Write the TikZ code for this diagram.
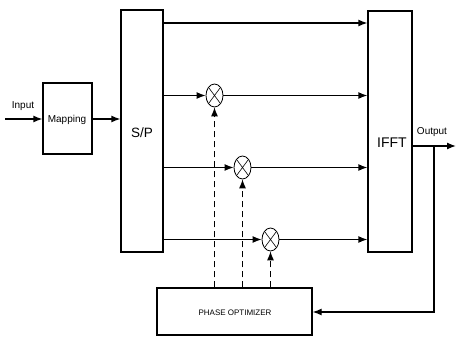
\documentclass[tikz,border=0pt]{standalone}
\usepackage{fontspec}
\setmainfont{Liberation Sans}
\usetikzlibrary{arrows.meta,shapes.geometric}
\begin{document}
\begin{tikzpicture}[x=1pt,y=-1pt,
  line width=1.3pt,
  box/.style={draw,rectangle,inner sep=0pt},
  mult/.style={draw,ellipse,minimum width=17pt,minimum height=23pt,inner sep=0pt,line width=0.8pt,
    path picture={\draw[line width=0.6pt] (path picture bounding box.south west) -- (path picture bounding box.north east)
      (path picture bounding box.north west) -- (path picture bounding box.south east);}},
  arr/.style={-{Latex[length=9pt,width=7pt]}},
  dasharr/.style={arr,line width=1pt,dash pattern=on 6pt off 4pt},
  lbl/.style={inner sep=0pt,font=\fontsize{10}{12}\selectfont}]
\useasboundingbox (0,0) rectangle (456,337);
% blocks
\node[box,minimum width=49pt,minimum height=71pt] (map) at (67.5,118.5) {};
\node[lbl] (maptxt) at (67,120) {Mapping};
\node[box,minimum width=42pt,minimum height=242pt] (sp) at (142,131) {};
\node[inner sep=0pt,font=\fontsize{13.5}{15}\selectfont] (sptxt) at (142,133) {S/P};
\node[box,minimum width=44pt,minimum height=241pt] (ifft) at (390,131.5) {};
\node[inner sep=0pt,font=\fontsize{14}{16}\selectfont] (iffttxt) at (392,143) {IFFT};
\node[box,minimum width=155pt,minimum height=47pt] (po) at (234.5,311.5) {};
\node[inner sep=0pt,font=\fontsize{8}{10}\selectfont] (potxt) at (235,313) {PHASE OPTIMIZER};
% multipliers
\node[mult] (m1) at (214.5,95.5) {};
\node[mult] (m2) at (242.5,167.5) {};
\node[mult] (m3) at (270.5,239.5) {};
% input / output
\coordinate (in) at (5,119);
\node[lbl] (intxt) at (23,106) {Input};
\draw[arr] (in) -- (map.west |- in);
\draw[arr] (map.east |- in) -- (sp.west |- in);
\coordinate (br) at (434,146);
\coordinate (out) at (456,146);
\coordinate (fb) at (434,312);
\node[lbl] (outtxt) at (432,132) {Output};
\draw[arr] (ifft.east |- br) -- (out);
\draw[arr] (br) -- (fb) -- (po.east |- fb);
% channels
\coordinate (c0) at (163,23);
\draw[arr] (sp.east |- c0) -- (ifft.west |- c0);
\draw[arr] (sp.east |- m1) -- (m1.west);
\draw[arr] (m1.east) -- (ifft.west |- m1);
\draw[arr] (sp.east |- m2) -- (m2.west);
\draw[arr] (m2.east) -- (ifft.west |- m2);
\draw[arr] (sp.east |- m3) -- (m3.west);
\draw[arr] (m3.east) -- (ifft.west |- m3);
% phase control
\draw[dasharr] (po.north -| m1) -- (m1.south);
\draw[dasharr] (po.north -| m2) -- (m2.south);
\draw[dasharr] (po.north -| m3) -- (m3.south);
\end{tikzpicture}
\end{document}
